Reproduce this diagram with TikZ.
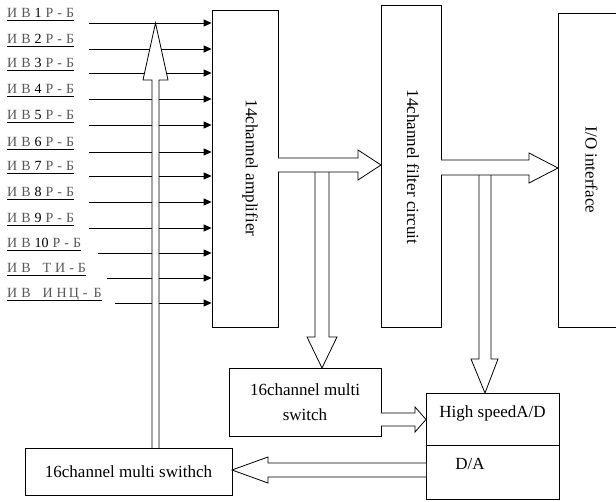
\documentclass[tikz,border=0pt]{standalone}
\usepackage{fontspec}
\setmainfont{Liberation Serif}
\usetikzlibrary{arrows.meta}
\newcommand\dg[1]{{\color{black}#1}}
\newcommand\gp{\hspace{4pt}}
\begin{document}
\begin{tikzpicture}[x=1pt,y=-1pt,
  box/.style={draw,line width=0.8pt,inner sep=0pt},
  btext/.style={font=\fontsize{17}{25}\selectfont,inner sep=0pt,align=center},
  hollow/.style={draw,line width=0.8pt,fill=white,line join=miter},
  inarrow/.style={line width=0.9pt,-{Triangle[length=8pt,width=7pt]}},
  lbl/.style={anchor=base west,inner sep=0pt,font=\fontsize{14}{16}\selectfont,text=black!65}]
\path[use as bounding box] (0,0) rectangle (616,502);
\clip (0,0) rectangle (616,502);

% main boxes
\node[box,minimum width=66pt,minimum height=317pt] (amp) at (245,168.5) {};
\node[btext,rotate=-90] (ampt) at (250,168) {14channel amplifier};
\node[box,minimum width=60pt,minimum height=322pt] (filt) at (411,166) {};
\node[btext,rotate=-90] (filtt) at (413,167) {14channel filter circuit};
\node[box,minimum width=62pt,minimum height=314pt] (io) at (589,170) {};
\node[btext,rotate=-90] (iot) at (591.5,170) {I/O interface};

\node[box,btext,minimum width=152pt,minimum height=68pt] (ms) at (305,402) {16channel multi\\switch};
\node[box,minimum width=133pt,minimum height=106pt] (ad) at (492.5,446) {};
\draw[line width=0.8pt] (ad.west |- 0,445) -- (ad.east |- 0,445);
\node[btext] (adt) at (492.5,413) {High speedA/D};
\node[btext] (dat) at (470,464) {D/A};
\node[box,btext,minimum width=207pt,minimum height=47pt] (bl) at (128.5,471.5) {16channel multi swithch};

% input lines with labels
\foreach \i/\y/\sx/\uw/\txt in {
  1/23/89/0.7/{И\gp В\gp\dg{1}\gp Р\gp -\gp Б},
  2/49/89/0.7/{И\gp В\gp\dg{2}\gp Р\gp -\gp Б},
  3/73/89/0.7/{И\gp В\gp\dg{3}\gp Р\gp -\gp Б},
  4/99/89/1.1/{И\gp В\gp\dg{4}\gp Р\gp -\gp Б},
  5/125/89/0.7/{И\gp В\gp\dg{5}\gp Р\gp -\gp Б},
  6/152/89/0.7/{И\gp В\gp\dg{6}\gp Р\gp -\gp Б},
  7/176/89/0.7/{И\gp В\gp\dg{7}\gp Р\gp -\gp Б},
  8/202/89/1.1/{И\gp В\gp\dg{8}\gp Р\gp -\gp Б},
  9/228/89/0.7/{И\gp В\gp\dg{9}\gp Р\gp -\gp Б},
  10/253/98/0.7/{И\gp В\gp\dg{10}\gp Р\gp -\gp Б},
  11/278/107/1.0/{И\gp В\hspace{12pt}Т\gp И\gp -\gp Б},
  12/303/115/1.0/{И\gp В\hspace{12pt}И\gp Н\hspace{2pt}Ц\gp -\hspace{6pt}Б}}{
  \node[lbl] (L\i) at (7,\y-5.5) {\txt\hspace{2pt}};
  \draw[line width=\uw pt] ([yshift=-3pt]L\i.base west) -- ([yshift=-3pt]L\i.base east);
  \coordinate (s\i) at (\sx,\y);
  \draw[inarrow] (s\i) -- (s\i -| amp.west);
}

% big hollow arrow up from bottom-left switch
\draw[hollow] (152,448) -- (152,80) -- (143,80) -- (155.5,23) -- (168,80) -- (159,80) -- (159,448);

% down arrows
\draw[hollow] (315,172) -- (315,337) -- (307,337) -- (322,368) -- (337,337) -- (329,337) -- (329,172);
\draw[hollow] (479,175) -- (479,359) -- (471,359) -- (485,393) -- (498,359) -- (491,359) -- (491,175);

% horizontal hollow arrows
\draw[hollow] (278,158) -- (358,158) -- (358,150) -- (381,165) -- (358,180) -- (358,172) -- (278,172);
\draw[hollow] (441,160) -- (529,160) -- (529,153) -- (558,168) -- (529,183) -- (529,175) -- (441,175);
\draw[hollow] (381,413) -- (415,413) -- (415,407) -- (426,419.5) -- (415,432) -- (415,426) -- (381,426);
\draw[hollow] (426,463) -- (268,463) -- (268,457) -- (232,470) -- (268,483) -- (268,477) -- (426,477);
\end{tikzpicture}
\end{document}
